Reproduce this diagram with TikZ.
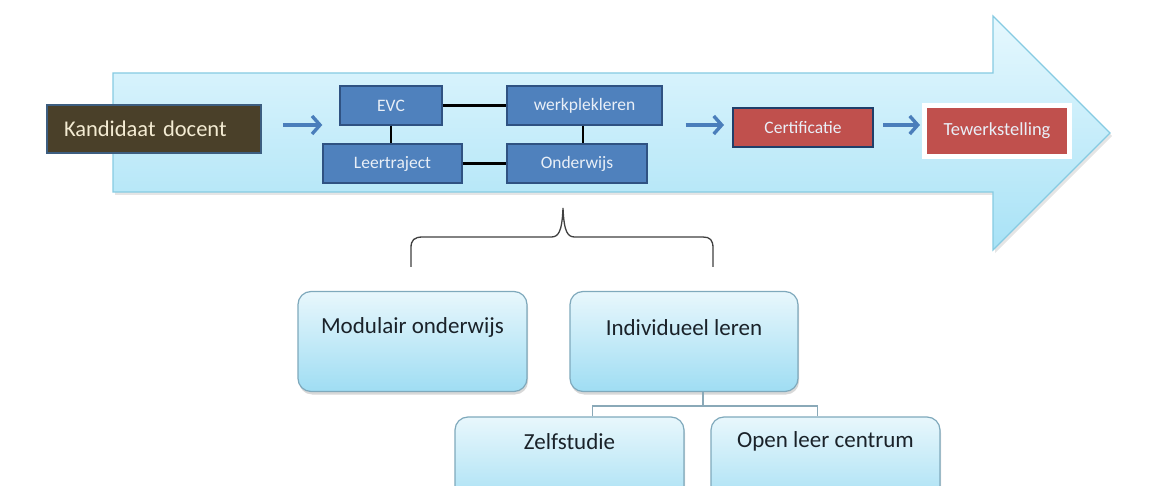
\documentclass[tikz,border=0pt]{standalone}
\usepackage{fontspec}
\setmainfont{Carlito}
\usetikzlibrary{arrows.meta,shadows,calc}
\definecolor{arrowtop}{HTML}{E6F8FE}
\definecolor{arrowbot}{HTML}{A8E2F6}
\definecolor{arrowedge}{HTML}{86CBE2}
\definecolor{kdfill}{HTML}{4A4029}
\definecolor{kdedge}{HTML}{3D5E80}
\definecolor{kdtext}{HTML}{F3EBD2}
\definecolor{bfill}{HTML}{4F81BD}
\definecolor{bedge}{HTML}{2F5282}
\definecolor{btext}{HTML}{E9EFF7}
\definecolor{rfill}{HTML}{C0504D}
\definecolor{redge}{HTML}{1F3F6A}
\definecolor{flowblue}{HTML}{4A7EBB}
\definecolor{lowtop}{HTML}{E8F7FC}
\definecolor{lowbot}{HTML}{9FDDF3}
\definecolor{lowedge}{HTML}{7FA9BC}
\definecolor{lowline}{HTML}{8AA9B8}
\definecolor{lowtext}{HTML}{1A2229}
\definecolor{bracec}{HTML}{404040}
\begin{document}
\begin{tikzpicture}[x=1pt,y=-1pt,
  kdbox/.style={draw=kdedge, line width=1.8pt, fill=kdfill, text=kdtext, font=\fontsize{22.5}{26}\selectfont,
     minimum width=214pt, minimum height=48pt, inner xsep=16pt, text width=180pt, align=left},
  bluebox/.style={draw=bedge, line width=1.4pt, fill=bfill, text=btext, font=\fontsize{17.5}{20}\selectfont,
     minimum height=39pt, inner sep=0pt},
  redbox/.style={fill=rfill, text=btext, font=\fontsize{17.5}{20}\selectfont, inner sep=0pt},
  link/.style={draw=black, line width=2.6pt},
  flowarrow/.style={draw=flowblue, line width=3.8pt, -{Straight Barb[length=8pt,width=18pt,line width=3.4pt]}},
  lowbox/.style={draw=lowedge, line width=1.2pt, top color=lowtop, bottom color=lowbot, rounded corners=13pt,
     minimum width=229pt, minimum height=100pt, inner sep=0pt,
     drop shadow={shadow xshift=1pt, shadow yshift=-3pt, opacity=0.25, fill=black!60}},
  lowtxt/.style={text=lowtext, font=\fontsize{23}{27}\selectfont, inner sep=0pt},
  lowlink/.style={draw=lowline, line width=1.3pt},
]
\useasboundingbox (0,0) rectangle (1157,486);
\fill[white] (0,0) rectangle (1157,486);

% big arrow (shadow, then body)
\fill[black, opacity=0.10] (115,76) -- (995,76) -- (995,19) -- (1112,136) -- (995,253) -- (995,195) -- (115,195) -- cycle;
\path[draw=arrowedge, line width=1.2pt, top color=arrowtop, bottom color=arrowbot]
  (113,73) -- (993,73) -- (993,16) -- (1110,133) -- (993,250) -- (993,192) -- (113,192) -- cycle;

% first row
\node[kdbox] (kd) at (154,129) {Kandidaat docent};

\node[bluebox, minimum width=102pt] (evc) at (391,105.5) {EVC};
\node[bluebox, minimum width=155pt] (wp) at (584.5,105.5) {werkplekleren};
\node[bluebox, minimum width=139pt] (lt) at (392.5,163.5) {Leertraject};
\node[bluebox, minimum width=140pt] (ond) at (577,163.5) {Onderwijs};

\draw[link] (evc.east) -- (wp.west);
\draw[link] (lt.east) -- (ond.west);
\draw[link] (evc.south) -- (evc.south |- lt.north);
\draw[link] ([xshift=-1.5pt]wp.south) -- ([xshift=-1.5pt]wp.south |- ond.north);

\node[redbox, draw=redge, line width=2pt, minimum width=140pt, minimum height=39pt] (cert) at (803,127.5) {Certificatie};
\node[redbox, draw=white, line width=5pt, minimum width=145pt, minimum height=51pt, font=\fontsize{18.5}{21}\selectfont,
      drop shadow={shadow xshift=1.5pt, shadow yshift=-2pt, opacity=0.25, fill=black!50}] (tew) at (997,131.5) {\raisebox{5pt}{Tewerkstelling}};

\draw[flowarrow] ([xshift=21pt,yshift=4pt]kd.east) -- ([yshift=4pt]kd.east -| lt.west) ;
\draw[flowarrow] ($(wp.east |- cert.west)+(23,-2.5)$) -- ($(cert.west)+(-8,-2.5)$);
\draw[flowarrow] ($(cert.east)+(9,-2.5)$) -- ($(tew.west)+(-2,-6.5)$);

% brace
\coordinate (bl) at (411,267);
\coordinate (br) at (713,267);
\coordinate (bt) at (563,208);
\draw[bracec, line width=1.3pt] (bl) -- (411,248) .. controls (411,240) and (414,237) .. (423,237) -- (551,237)
   .. controls (558,237) and (562,233) .. (bt) .. controls (564,233) and (568,237) .. (575,237) -- (703,237)
   .. controls (710,237) and (713,240) .. (713,248) -- (br);

% lower boxes
\node[lowbox] (mo) at (412.5,341.5) {};
\node[lowtxt] (motx) at ($(mo.north)+(0,37)$) {Modulair onderwijs};
\node[lowbox, minimum width=228pt] (il) at (684,341.5) {};
\node[lowtxt] (iltx) at ($(il.north)+(0,37)$) {Individueel leren};
\node[lowbox] (zs) at (569.5,467) {};
\node[lowtxt] (zstx) at ($(zs.north)+(0,25)$) {Zelfstudie};
\node[lowbox] (ol) at (825.5,467) {};
\node[lowtxt] (oltx) at ($(ol.north)+(0,25)$) {Open leer centrum};

\coordinate (jn) at ($(il.south)+(19,14)$);
\coordinate (jl) at ($(jn -| zs.north)+(23,0)$);
\coordinate (jr) at ($(jn -| ol.north)+(-8,0)$);
\draw[lowlink] ([xshift=19pt]il.south) -- (jn);
\draw[lowlink] (jl |- zs.north) -- (jl) -- (jr) -- (jr |- ol.north);
\end{tikzpicture}
\end{document}
